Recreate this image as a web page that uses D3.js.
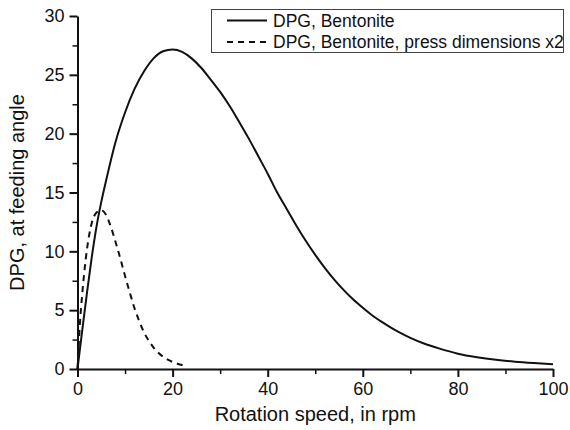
<!DOCTYPE html>
<html>
<head>
<meta charset="utf-8">
<script src="https://cdn.jsdelivr.net/npm/d3@7"></script>
<style>
  body { margin: 0; background: #fff; }
  svg { display: block; font-family: "Liberation Sans", Arial, sans-serif; }
</style>
</head>
<body>
<div id="chart"></div>
<script>
// 数据
const bentoniteX = [0, 1, 2, 3, 4, 5, 6, 8, 10, 12, 14, 16, 18, 20, 22, 24, 26, 28, 30, 32, 34, 36, 38, 40, 42, 44, 46, 48, 50, 52, 54, 56, 58, 60, 62, 64, 66, 68, 70, 73, 76, 80, 84, 88, 92, 96, 100];
const bentoniteY = [0, 3.3, 6.5, 9.5, 12.1, 14.2, 16.0, 19.3, 21.8, 23.8, 25.3, 26.4, 27.0, 27.15, 26.95, 26.4, 25.6, 24.6, 23.55, 22.35, 21.0, 19.6, 18.1, 16.6, 15.0, 13.6, 12.2, 10.9, 9.7, 8.6, 7.6, 6.7, 5.9, 5.2, 4.55, 4.0, 3.5, 3.05, 2.65, 2.15, 1.75, 1.3, 1.0, 0.78, 0.62, 0.5, 0.4];
const pressX2X = [0, 0.5, 1, 1.5, 2, 3, 4, 5, 6, 7, 8, 9, 10, 11, 12, 13, 14, 15, 16, 17, 18, 19, 20, 21, 22, 23];
const pressX2Y = [0, 3.8, 6.4, 8.5, 10.2, 12.4, 13.3, 13.5, 13.1, 12.1, 10.8, 9.4, 7.9, 6.5, 5.15, 4.05, 3.1, 2.4, 1.82, 1.38, 1.04, 0.79, 0.6, 0.45, 0.34, 0.26];
const xTicks = [0, 20, 40, 60, 80, 100];
const yTicks = [0, 5, 10, 15, 20, 25, 30];
const seriesNames = ["DPG, Bentonite", "DPG, Bentonite, press dimensions x2"];

const W = 570, H = 430;
const margin = { top: 16, right: 17, bottom: 61, left: 77.5 };

const svg = d3.select("#chart").append("svg").attr("width", W).attr("height", H);

const x = d3.scaleLinear().domain([0, 100]).range([margin.left, W - margin.right]);
const y = d3.scaleLinear().domain([0, 30]).range([H - margin.bottom, margin.top]);

const series = [
  { name: seriesNames[0], pts: bentoniteX.map((v, i) => [v, bentoniteY[i]]), dash: null },
  { name: seriesNames[1], pts: pressX2X.map((v, i) => [v, pressX2Y[i]]), dash: "6,5" }
];

const line = d3.line().x(d => x(d[0])).y(d => y(d[1])).curve(d3.curveMonotoneX);

series.forEach(s => {
  svg.append("path").datum(s.pts)
    .attr("d", line)
    .attr("fill", "none")
    .attr("stroke", "#111")
    .attr("stroke-width", 2)
    .attr("stroke-dasharray", s.dash);
});

// 坐标轴
const styleAxis = g => {
  g.select(".domain").attr("stroke", "#111").attr("stroke-width", 2);
  g.selectAll(".tick line").attr("stroke", "#111").attr("stroke-width", 2);
  g.selectAll("text").attr("fill", "#111").style("font-size", "18px");
};

// 次刻度
svg.append("g")
  .attr("transform", `translate(0,${y(0)})`)
  .call(d3.axisBottom(x).tickValues(d3.range(10, 100, 20)).tickSize(5).tickFormat(""))
  .call(g => g.select(".domain").remove())
  .call(g => g.selectAll(".tick line").attr("stroke", "#111").attr("stroke-width", 1.5));
svg.append("g")
  .attr("transform", `translate(${x(0)},0)`)
  .call(d3.axisLeft(y).tickValues(d3.range(2.5, 30, 5)).tickSize(5).tickFormat(""))
  .call(g => g.select(".domain").remove())
  .call(g => g.selectAll(".tick line").attr("stroke", "#111").attr("stroke-width", 1.5));

svg.append("g")
  .attr("transform", `translate(0,${y(0)})`)
  .call(d3.axisBottom(x).tickValues(xTicks).tickSize(8).tickSizeOuter(0).tickPadding(5))
  .call(styleAxis);

svg.append("g")
  .attr("transform", `translate(${x(0)},0)`)
  .call(d3.axisLeft(y).tickValues(yTicks).tickSize(8).tickSizeOuter(0).tickPadding(5))
  .call(styleAxis);

// 轴标题
svg.append("text")
  .attr("x", (x(0) + x(100)) / 2).attr("y", 421)
  .attr("text-anchor", "middle")
  .style("font-size", "20px").attr("fill", "#111")
  .text("Rotation speed, in rpm");

svg.append("text")
  .attr("transform", `translate(24,${(y(0) + y(30)) / 2}) rotate(-90)`)
  .attr("text-anchor", "middle")
  .style("font-size", "20px").attr("fill", "#111")
  .text("DPG, at feeding angle");

// 图例
const legend = svg.append("g");
legend.append("rect")
  .attr("x", 211.5).attr("y", 9.5).attr("width", 352).attr("height", 43)
  .attr("fill", "#fff").attr("stroke", "#444").attr("stroke-width", 1);

series.forEach((s, i) => {
  const ly = 20.5 + i * 21.5;
  legend.append("line")
    .attr("x1", 227).attr("x2", 267).attr("y1", ly).attr("y2", ly)
    .attr("stroke", "#111").attr("stroke-width", 2)
    .attr("stroke-dasharray", s.dash);
  legend.append("text")
    .attr("x", 273).attr("y", ly + 6)
    .style("font-size", "17.5px").attr("fill", "#111")
    .text(s.name);
});
</script>
</body>
</html>
